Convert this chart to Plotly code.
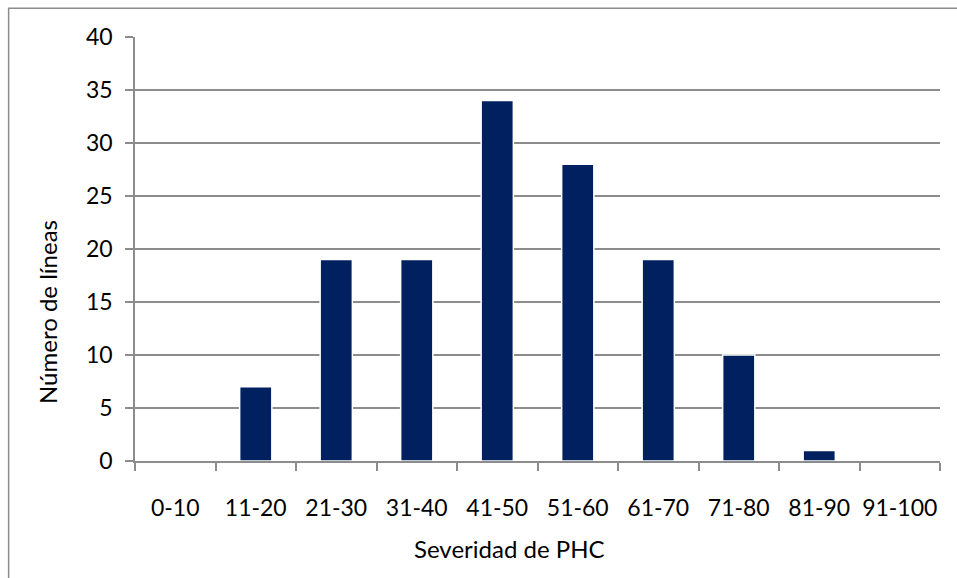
import plotly.graph_objects as go

categories = ["0-10", "11-20", "21-30", "31-40", "41-50", "51-60", "61-70", "71-80", "81-90", "91-100"]
values = [0, 7, 19, 19, 34, 28, 19, 10, 1, 0]
y_ticks = [0, 5, 10, 15, 20, 25, 30, 35, 40]

FONT = "Lato, Carlito, Calibri, sans-serif"
GRID = "#8c8c8c"

fig = go.Figure(go.Bar(
    x=categories, y=values,
    marker=dict(color="#002060", line=dict(color="#ffffff", width=1.5)),
))

fig.update_layout(
    width=957, height=578,
    margin=dict(l=135, r=17, t=37, b=117),
    paper_bgcolor="white", plot_bgcolor="white",
    bargap=0.6,
    showlegend=False,
    font=dict(family=FONT, size=23, color="#000000"),
)
fig.update_xaxes(
    type="category",
    tickson="boundaries",
    ticks="outside", ticklen=8, tickcolor=GRID, tickwidth=1.5,
    showline=True, linecolor=GRID, linewidth=1.5,
    showgrid=False,
    tickangle=0,
    automargin=False,
    ticklabelstandoff=26,
    tickfont=dict(size=23),
)
fig.update_yaxes(
    range=[0, 40], tickvals=y_ticks,
    ticks="outside", ticklen=8, tickcolor=GRID, tickwidth=1.5,
    showline=True, linecolor=GRID, linewidth=1.5,
    showgrid=True, gridcolor=GRID, gridwidth=1.5,
    zeroline=False,
    automargin=False,
    ticklabelstandoff=8,
    tickfont=dict(size=23),
)
# axis titles (offset from the plot centre, as in the reference)
fig.add_annotation(text="Severidad de PHC", xref="paper", yref="paper",
                   x=(509 - 135) / 805, y=-(548 - 461) / 424,
                   xanchor="center", yanchor="middle", showarrow=False,
                   font=dict(size=24))
fig.add_annotation(text="Número de líneas", xref="paper", yref="paper",
                   x=-(135 - 47) / 805, y=(461 - 312) / 424, textangle=-90,
                   xanchor="center", yanchor="middle", showarrow=False,
                   font=dict(size=24))
fig.add_shape(type="rect", xref="paper", yref="paper",
              x0=-0.157, x1=1.05, y0=-0.3, y1=1.068,
              line=dict(color="#8c8c8c", width=1.5), layer="below")

fig.write_html("out.html")
